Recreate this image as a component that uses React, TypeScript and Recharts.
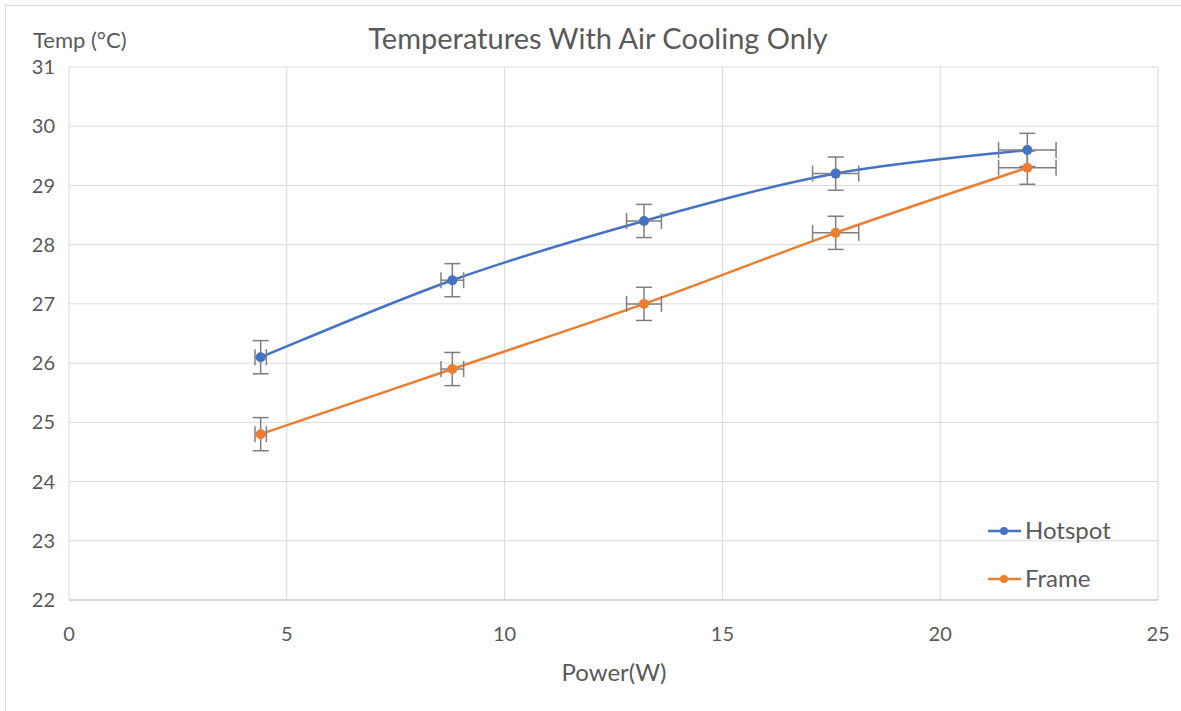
import React from "react";
import {
  ComposedChart,
  Line,
  Scatter,
  XAxis,
  YAxis,
  CartesianGrid,
  ErrorBar,
} from "recharts";

const powerW = [4.4, 8.8, 13.2, 17.6, 22];
const hotspotTemp = [26.1, 27.4, 28.4, 29.2, 29.6];
const frameTemp = [24.8, 25.9, 27.0, 28.2, 29.3];
const powerErr = [0.13, 0.26, 0.4, 0.53, 0.66];
const hotspotErr = [0.28, 0.28, 0.28, 0.28, 0.28];
const frameErr = [0.28, 0.28, 0.28, 0.28, 0.28];
const xTicks = [0, 5, 10, 15, 20, 25];
const yTicks = [22, 23, 24, 25, 26, 27, 28, 29, 30, 31];

const data = powerW.map((x, i) => ({
  x,
  hot: hotspotTemp[i],
  frame: frameTemp[i],
  ex: powerErr[i],
  hotEy: hotspotErr[i],
  frameEy: frameErr[i],
}));

const BLUE = "#4472C4";
const ORANGE = "#ED7D31";
const TEXT = "#595959";
const FONT = "Lato, 'Open Sans', sans-serif";

// Excel-like smoothed line (Catmull-Rom style Bezier)
const smoothCurve: any = (context: any) => {
  let pts: number[][] = [];
  return {
    areaStart() {},
    areaEnd() {},
    lineStart() {
      pts = [];
    },
    point(x: number, y: number) {
      pts.push([+x, +y]);
    },
    lineEnd() {
      if (!pts.length) return;
      context.moveTo(pts[0][0], pts[0][1]);
      for (let i = 0; i < pts.length - 1; i++) {
        const p0 = pts[i - 1] || pts[i];
        const p1 = pts[i];
        const p2 = pts[i + 1];
        const p3 = pts[i + 2] || pts[i + 1];
        const c1x = p1[0] + (p2[0] - p0[0]) / 6;
        const c1y = p1[1] + (p2[1] - p0[1]) / 6;
        const c2x = p2[0] - (p3[0] - p1[0]) / 6;
        const c2y = p2[1] - (p3[1] - p1[1]) / 6;
        context.bezierCurveTo(c1x, c1y, c2x, c2y, p2[0], p2[1]);
      }
    },
  };
};

export default function App() {
  return (
    <div
      style={{
        position: "fixed",
        left: 0,
        top: 0,
        width: 1181,
        height: 711,
        background: "#fff",
        fontFamily: FONT,
      }}
    >
      <div
        style={{
          position: "absolute",
          left: 5,
          top: 5,
          width: 1176,
          height: 706,
          borderLeft: "1px solid #d9d9d9",
          borderTop: "1px solid #d9d9d9",
        }}
      />
      <ComposedChart
        width={1181}
        height={711}
        data={data}
        margin={{ top: 67, right: 23, bottom: 81, left: 0 }}
        style={{ position: "absolute", left: 0, top: 0 }}
      >
        <CartesianGrid stroke="#d9d9d9" strokeWidth={1} />
        <XAxis
          type="number"
          dataKey="x"
          height={30}
          domain={[0, 25]}
          ticks={xTicks}
          interval={0}
          axisLine={{ stroke: "#bfbfbf" }}
          tickLine={false}
          tickSize={0}
          tickMargin={27}
          tick={{ fill: TEXT, fontSize: 20, fontFamily: FONT }}
        />
        <YAxis
          type="number"
          width={69}
          domain={[22, 31]}
          ticks={yTicks}
          interval={0}
          axisLine={false}
          tickLine={false}
          tickSize={0}
          tickMargin={14}
          tick={{ fill: TEXT, fontSize: 20, fontFamily: FONT }}
        />
        <Line
          type={smoothCurve}
          dataKey="hot"
          stroke={BLUE}
          strokeWidth={2.5}
          dot={false}
          activeDot={false}
          isAnimationActive={false}
        />
        <Line
          type={smoothCurve}
          dataKey="frame"
          stroke={ORANGE}
          strokeWidth={2.5}
          dot={false}
          activeDot={false}
          isAnimationActive={false}
        />
        <Scatter
          dataKey="hot"
          fill={BLUE}
          shape={(p: any) => <circle cx={p.cx} cy={p.cy} r={5} fill={BLUE} />}
          isAnimationActive={false}
        >
          <ErrorBar dataKey="hotEy" direction="y" stroke="#7f7f7f" strokeWidth={1.5} width={8} />
          <ErrorBar dataKey="ex" direction="x" stroke="#7f7f7f" strokeWidth={1.5} width={8} />
        </Scatter>
        <Scatter
          dataKey="frame"
          fill={ORANGE}
          shape={(p: any) => <circle cx={p.cx} cy={p.cy} r={5} fill={ORANGE} />}
          isAnimationActive={false}
        >
          <ErrorBar dataKey="frameEy" direction="y" stroke="#7f7f7f" strokeWidth={1.5} width={8} />
          <ErrorBar dataKey="ex" direction="x" stroke="#7f7f7f" strokeWidth={1.5} width={8} />
        </Scatter>
        <text x={598} y={49} textAnchor="middle" fill={TEXT} fontSize={29} fontFamily={FONT}>
          Temperatures With Air Cooling Only
        </text>
        <text x={33} y={48} textAnchor="start" fill={TEXT} fontSize={22} fontFamily={FONT}>
          Temp (°C)
        </text>
        <text x={614} y={681} textAnchor="middle" fill={TEXT} fontSize={24} fontFamily={FONT}>
          Power(W)
        </text>
        <g>
          <line x1={988} y1={531} x2={1021} y2={531} stroke={BLUE} strokeWidth={2.5} />
          <circle cx={1004} cy={531} r={4} fill={BLUE} />
          <text x={1025} y={539} fill={TEXT} fontSize={24} fontFamily={FONT}>
            Hotspot
          </text>
          <line x1={988} y1={579} x2={1021} y2={579} stroke={ORANGE} strokeWidth={2.5} />
          <circle cx={1004} cy={579} r={4} fill={ORANGE} />
          <text x={1025} y={587} fill={TEXT} fontSize={24} fontFamily={FONT}>
            Frame
          </text>
        </g>
      </ComposedChart>
    </div>
  );
}
